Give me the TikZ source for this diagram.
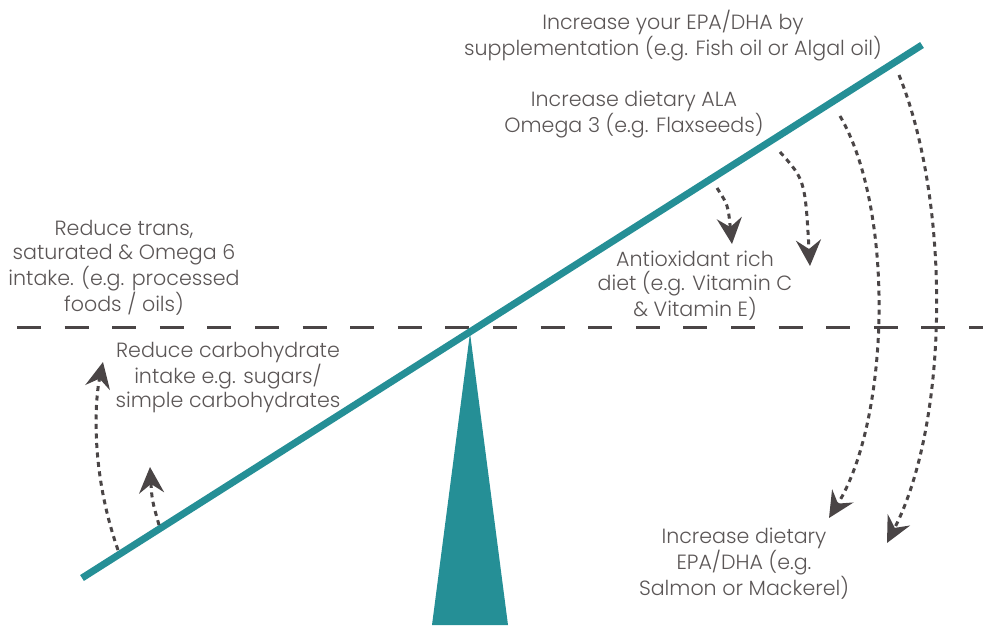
\documentclass[tikz,border=0pt]{standalone}
\usepackage{fontspec}
\setmainfont{Poppins}[UprightFont=* Light]
\usetikzlibrary{arrows.meta}
\definecolor{teal1}{HTML}{258F96}
\definecolor{dgray}{HTML}{4A4546}
\definecolor{tgray}{HTML}{5B5656}
\tikzset{
  lbl/.style={align=center, inner sep=0pt, text=tgray, font=\fontsize{20.6}{24.5}\selectfont},
  dotarrow/.style={draw=dgray, line width=3pt, dash pattern=on 5pt off 4.5pt,
    -{Stealth[length=26pt,width=25pt,inset=9pt,fill=dgray]}},
  beam/.style={draw=teal1, line width=7pt},
  level/.style={draw=dgray, line width=3.5pt, dash pattern=on 24pt off 23.6pt}
}
\begin{document}
\begin{tikzpicture}[x=1pt,y=-1pt]
\useasboundingbox (0,0) rectangle (983,625);
% level line
\coordinate (l0) at (17,327.5);
\coordinate (l1) at (983,327.5);
\draw[level] (l0) -- (l1);
% fulcrum
\coordinate (apex) at (470,333);
\coordinate (bl) at (432,625);
\coordinate (br) at (508,625);
\fill[teal1] (apex) -- (br) -- (bl) -- cycle;
% beam
\coordinate (b0) at (82,578);
\coordinate (b1) at (922,45);
\draw[beam] (b0) -- (b1);
% labels
\node[lbl] (epa) at (673,35.5) {Increase your EPA/DHA by\\supplementation (e.g. Fish oil or Algal oil)};
\node[lbl] (ala) at (634,114.5) {Increase dietary ALA\\Omega 3 (e.g. Flaxseeds)};
\node[lbl] (trans) at (124,267.5) {Reduce trans,\\saturated \& Omega 6\\intake. (e.g. processed\\foods / oils)};
\node[lbl] (carb) at (228,377.5) {Reduce carbohydrate\\intake e.g. sugars/\\simple carbohydrates};
\node[lbl] (anti) at (695,285.5) {Antioxidant rich\\diet (e.g. Vitamin C\\\& Vitamin E)};
\node[lbl] (salm) at (744,563.5) {Increase dietary\\EPA/DHA (e.g.\\Salmon or Mackerel)};
% arrows
\coordinate (a1s) at (159,525); \coordinate (a1e) at (150,467);
\coordinate (a2s) at (118,550); \coordinate (a2e) at (103,362);
\coordinate (a3s) at (717,188); \coordinate (a3e) at (732,244);
\coordinate (a4s) at (780,152); \coordinate (a4e) at (810,266);
\coordinate (a5s) at (840,116); \coordinate (a5e) at (829,518);
\coordinate (a6s) at (899,75);  \coordinate (a6e) at (887,543);
\draw[dotarrow] (a1s) .. controls (152,500) .. (a1e);
\draw[dotarrow] (a2s) .. controls (90,470) and (95,400) .. (a2e);
\draw[dotarrow] (a3s) .. controls (728,205) .. (a3e);
\draw[dotarrow] (a4s) .. controls (805,180) .. (a4e);
\draw[dotarrow] (a5s) .. controls (895,210) and (890,420) .. (a5e);
\draw[dotarrow] (a6s) .. controls (950,200) and (950,420) .. (a6e);
\end{tikzpicture}
\end{document}
